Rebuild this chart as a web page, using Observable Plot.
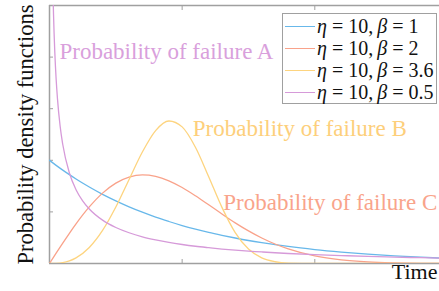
<!DOCTYPE html>
<html><head><meta charset="utf-8">
<script src="https://cdn.jsdelivr.net/npm/d3@7"></script>
<script src="https://cdn.jsdelivr.net/npm/@observablehq/plot@0.6"></script>
<style>
body{margin:0;background:#fff;}
#wrap{position:relative;width:439px;height:291px;overflow:hidden;}
#legend{position:absolute;left:282px;top:13px;width:155px;height:91px;border:1.5px solid #a0a0a0;background:#fff;box-sizing:border-box;font-family:"Liberation Serif",serif;font-size:20px;color:#111;}
.row{position:absolute;left:2px;height:22px;display:flex;align-items:center;white-space:nowrap;}
.sw{width:30px;height:0;border-top:1.3px solid;margin-right:2px;}
.eq{margin:0 5px;}
.cm{margin-right:4px;}
</style></head><body><div id="wrap"></div>
<script>
// Shared time grid for the first three series
const timeMain = [0,0.5,1,1.5,2,3,4,5,6,7,8,9,10,11,12,13,14,15,16,17,18,20,22,24,26,28,30];
const beta1  = [0.1,0.0951,0.0905,0.0861,0.0819,0.0741,0.0670,0.0607,0.0549,0.0497,0.0449,0.0407,0.0368,0.0333,0.0301,0.0273,0.0247,0.0223,0.0202,0.0183,0.0165,0.0135,0.0111,0.0091,0.0074,0.0061,0.0050];
const beta2  = [0,0.0100,0.0198,0.0293,0.0384,0.0548,0.0682,0.0779,0.0837,0.0858,0.0844,0.0801,0.0736,0.0656,0.0569,0.0480,0.0394,0.0316,0.0247,0.0189,0.0141,0.0073,0.0035,0.0015,0.0006,0.0002,0.0001];
const beta36 = [0,0.0002,0.0009,0.0026,0.0055,0.0155,0.0320,0.0547,0.0814,0.1080,0.1288,0.1381,0.1324,0.1127,0.0841,0.0544,0.0300,0.0140,0.0054,0.0017,0.0004,0,0,0,0,0,0];
// Time grid for beta = 0.5 (singular at 0)
const timeHalf = [0.2,0.25,0.3,0.4,0.5,0.6,0.8,1,1.5,2,2.5,3,4,5,6,7,8,9,10,11,12,13,14,15,16,17,18,20,22,24,26,28,30];
const betaHalf = [0.3069,0.2700,0.2428,0.2047,0.1788,0.1598,0.1332,0.1153,0.0877,0.0715,0.0607,0.0528,0.0420,0.0349,0.0298,0.0259,0.0229,0.0204,0.0184,0.0167,0.0153,0.0140,0.0129,0.0120,0.0112,0.0104,0.0097,0.0086,0.0077,0.0069,0.0062,0.0056,0.0051];

const seriesEta = [10,10,10,10];
const seriesBeta = ["1","2","3.6","0.5"];
const seriesColors = ["#68b8ea","#f9a28a","#fdd47f","#d69ad9"];

const annotText = ["Probability of failure A","Probability of failure B","Probability of failure C"];
const annotX = [0.75,10.8,13.1];
const annotY = [0.205,0.131,0.059];
const annotColors = ["#d9a0dc","#fdcf7b","#f9a48b"];

const xTicks = [10,20];
const yTicks = [0.05,0.1,0.15,0.2];

const mk = (ts, vs) => ts.map((t,i)=>({t, v: vs[i]}));
const seriesData = [mk(timeMain,beta1), mk(timeMain,beta2), mk(timeMain,beta36), mk(timeHalf,betaHalf)];
const annots = annotText.map((s,i)=>({s, x: annotX[i], y: annotY[i], c: annotColors[i]}));

const gray = "#a0a0a0";
const chart = Plot.plot({
  width: 439, height: 291,
  marginLeft: 49, marginTop: 5, marginBottom: 28, marginRight: 0,
  x: {domain: [0, 29.4]},
  y: {domain: [0, 0.25]},
  style: {fontFamily: "'Liberation Serif', serif", background: "white", overflow: "hidden"},
  marks: [
    Plot.ruleY([0, 0.25], {stroke: gray, strokeWidth: 1.5}),
    Plot.ruleX([0], {stroke: gray, strokeWidth: 1.5}),
    Plot.axisX(xTicks, {anchor: "bottom", tickSize: -4, tickFormat: () => "", label: null, stroke: gray}),
    Plot.axisX(xTicks, {anchor: "top", tickSize: -4, tickFormat: () => "", label: null, stroke: gray}),
    Plot.axisY(yTicks, {anchor: "left", tickSize: -4, tickFormat: () => "", label: null, stroke: gray}),
    ...seriesData.map((d,i) => Plot.line(d, {x: "t", y: "v", stroke: seriesColors[i], strokeWidth: 1.3, curve: "monotone-x", clip: true})),
    Plot.text(annots, {x: "x", y: "y", text: "s", fill: "c", textAnchor: "start", fontSize: 23}),
    Plot.text(["Probability density functions"], {frameAnchor: "left", textAnchor: "middle", rotate: -90, dx: -24, fontSize: 22.5, fill: "#111"}),
    Plot.text(["Time"], {frameAnchor: "bottom-right", textAnchor: "end", dx: -2, dy: 15, fontSize: 22, fill: "#111"})
  ]
});
const wrap = document.getElementById("wrap");
wrap.appendChild(chart);
const legend = document.createElement("div");
legend.id = "legend";
seriesBeta.forEach((b,i) => {
  const row = document.createElement("div");
  row.className = "row";
  row.style.top = (1 + i*22) + "px";
  row.innerHTML = `<span class="sw" style="border-color:${seriesColors[i]}"></span><span><i>η</i><span class="eq">=</span>${seriesEta[i]}<span class="cm">,</span><i>β</i><span class="eq">=</span>${b}</span>`;
  legend.appendChild(row);
});
wrap.appendChild(legend);
</script></body></html>
